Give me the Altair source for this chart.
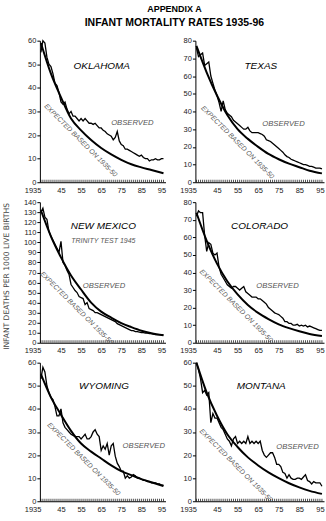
import altair as alt
import pandas as pd

FONT = "Liberation Sans"

YEARS = list(range(1935, 1997))
EXP_YEARS = [1935, 1940, 1945, 1950, 1955, 1960, 1965, 1970, 1975, 1980, 1985, 1990, 1996]
TICK_YEARS = [1935, 1945, 1955, 1965, 1975, 1985, 1995]
TICK_LABELS = ["1935", "45", "55", "65", "75", "85", "95"]

STATES = ["OKLAHOMA", "TEXAS", "NEW MEXICO", "COLORADO", "WYOMING", "MONTANA"]
YMAX = [60, 80, 140, 80, 60, 60]

OK_OBS = [55, 60, 59, 53, 50, 49, 46, 42, 41, 38,
          34, 33, 34, 31, 29, 30, 28, 28, 27, 26,
          27, 26, 27, 26, 25, 25, 24.5, 25, 24, 23,
          23, 22, 21.5, 20.5, 20, 19.5, 18, 19, 21.5, 17.5,
          16, 15.5, 14, 14, 13.5, 13, 12.5, 12, 11.5, 11,
          11.5, 10.5, 10, 10, 9, 9.5, 9.5, 10, 9.5, 9.5,
          10, 10]
TX_OBS = [76, 71, 72, 73, 66, 67, 68, 60, 56, 52,
          49, 45, 40, 46, 41, 39, 38, 37, 35, 34,
          33, 32, 31, 30, 30, 31, 29, 28, 28, 28,
          28, 27.5, 27, 26, 24, 23.5, 23, 22, 21, 20,
          19, 18, 17, 15.5, 14.5, 14, 13, 12.5, 12, 11.5,
          11, 10.5, 10, 10, 9.5, 9, 9, 8.5, 8, 8,
          8, 7.5]
NM_OBS = [130, 134, 125, 123, 111, 106, 102, 98, 94, 90,
          101, 80, 77, 72, 68, 58, 55, 52, 50, 46,
          45, 44, 38, 40, 34, 33, 32, 30, 30, 29,
          28, 27, 26, 25, 24, 23, 22, 21, 19, 18,
          17, 16, 15, 14, 13, 12, 12, 11, 11, 10.5,
          10, 10, 9.5, 9.5, 9, 9, 8.5, 8, 8, 8,
          8, 7.5]
CO_OBS = [72, 75, 74, 74, 61, 52, 57, 56, 51, 50,
          51, 43, 39, 37, 35, 33, 32, 31, 32, 32,
          31, 30, 31, 32, 29, 28, 27, 26, 26, 26,
          25, 25, 24, 23, 22, 20, 19, 18, 17, 16.5,
          16, 15, 14, 12, 12, 11, 11, 10, 10, 10.5,
          9.5, 10, 9.5, 10, 9, 9.5, 9, 8.5, 8, 7.5,
          7, 7]
WY_OBS = [53, 58, 56, 50, 47, 45, 44, 41, 37, 37,
          40, 34, 32, 31, 30, 29, 28.5, 28, 28, 28,
          27, 28, 29, 27, 27, 28, 30, 31, 29, 28,
          22, 24, 22.5, 25, 20, 24, 25, 19.5, 16.5, 15,
          13, 13, 10, 11, 10, 10.5, 11.5, 11, 10, 10,
          9.5, 9, 9, 8.5, 8.5, 8, 8, 8, 7.5, 7.5,
          7, 7]
MT_OBS = [60, 57, 53, 47, 48, 46, 47, 34, 38, 36,
          36, 34, 32, 31, 29, 27, 26, 24, 27, 28,
          25, 26, 25, 26, 25, 28, 25, 26, 25, 26,
          25, 26, 22, 20, 19, 20, 21, 21, 19, 16,
          16, 15, 12.5, 12, 10, 11.5, 10, 9.5, 9.5, 10,
          10, 9.5, 10.5, 11.5, 9, 8.5, 7.5, 8.5, 8, 8,
          8, 6.5]

OK_EXP = [59, 46, 36, 27, 22, 17.9, 14.5, 11.8, 9.5, 7.6, 6.3, 5.2, 3.8]
TX_EXP = [77, 62, 49, 38, 30, 24.5, 20, 16, 13, 10.5, 8.5, 6.5, 5]
NM_EXP = [132, 106, 85, 67, 53, 40, 31, 25, 19.5, 15.5, 12, 9.5, 7.5]
CO_EXP = [74, 58, 45, 35, 27.5, 21.5, 17, 13.5, 10.5, 8.3, 6.5, 5, 3.8]
WY_EXP = [55, 45, 37.5, 30.5, 25, 21.5, 18.5, 15.5, 13, 11.3, 9.6, 8.2, 6.6]
MT_EXP = [60, 47, 37, 29, 23.5, 19, 15.5, 12.5, 10, 7.8, 6, 4.5, 3.2]

OBSERVED = [OK_OBS, TX_OBS, NM_OBS, CO_OBS, WY_OBS, MT_OBS]
EXPECTED = [OK_EXP, TX_EXP, NM_EXP, CO_EXP, WY_EXP, MT_EXP]

# annotation anchor points (year, rate) per panel
NAME_POS = [(1965.3, 49.4), (1966.3, 65.8), (1966.1, 116.5), (1965.7, 66.6), (1966.4, 50.1), (1966.5, 50.1)]
OBS_POS = [(1980.5, 24.9), (1977.3, 32.8), (1966.4, 56.9), (1974.4, 32.2), (1986.2, 24), (1984.1, 23.7)]
EXP_POS = [(1954.8, 17.7), (1955.0, 22.5), (1952.8, 34.5), (1954.3, 21.0), (1956.3, 18.2), (1954.2, 15.5)]
EXP_LABEL = "EXPECTED BASED ON 1935-50"
OBS_LABEL = "OBSERVED"
TRINITY = ["TRINITY TEST 1945"]
TRINITY_POS = [(1966.1, 101.6)]
Y_TITLE = "INFANT DEATHS PER 1000 LIVE BIRTHS"

WIDTHS = [126, 129]
HEIGHTS = [142, 141, 139]

label_expr = " : ".join(f"datum.value == {y} ? '{l}'" for y, l in zip(TICK_YEARS, TICK_LABELS)) + " : ''"


def make_panel(i):
    w = WIDTHS[i % 2]
    h = HEIGHTS[i // 2]
    ymax = YMAX[i]
    xs = alt.Scale(domain=[1934.5, 1997], nice=False, zero=False)
    ys = alt.Scale(domain=[0, ymax], nice=False)

    yaxis_kw = dict(values=list(range(0, ymax + 1, 10)), tickSize=3, labelFontSize=7.5,
                    labelPadding=1, grid=False, title=None, labelColor="#222",
                    domainColor="black", tickColor="black", labelOverlap=False)
    if i == 2:
        yaxis_kw.update(title=Y_TITLE, titleX=-29, titleY=74, titleAngle=270,
                        titleFont="DejaVu Sans", titleFontSize=7.6, titleFontWeight="normal",
                        titleColor="#444", titleAlign="center", titleBaseline="bottom")
    yaxis = alt.Axis(**yaxis_kw)
    xaxis = alt.Axis(values=TICK_YEARS, labelExpr=label_expr, tickSize=0, labelPadding=4,
                     labelFontSize=7.5, labelColor="#222", domainColor="black", grid=False,
                     title=None, labelOverlap=False,
                     labelAlign={"condition": {"test": "datum.value == 1935", "value": "right"},
                                 "value": "center"})

    X_ = alt.X("year:Q", scale=xs, axis=xaxis)
    Y_ = alt.Y("rate:Q", scale=ys, axis=yaxis)

    obs_df = pd.DataFrame({"year": YEARS, "rate": OBSERVED[i]})
    exp_df = pd.DataFrame({"year": EXP_YEARS, "rate": EXPECTED[i]})

    obs = alt.Chart(obs_df).mark_line(color="black", strokeWidth=1.3).encode(x=X_, y=Y_)
    exp = alt.Chart(exp_df).mark_line(color="black", strokeWidth=2, interpolate="monotone").encode(
        x=X_, y=Y_)

    ticks = alt.Chart(pd.DataFrame({"year": YEARS})).mark_rule(color="black", strokeWidth=0.7).encode(
        x=X_, y=alt.value(h), y2=alt.value(h - 2.5))

    nx, ny = NAME_POS[i]
    name = alt.Chart(pd.DataFrame({"year": [nx], "rate": [ny], "t": [STATES[i]]})).mark_text(
        font=FONT, fontSize=10, fontStyle="italic", color="black", align="center", baseline="middle"
    ).encode(x=X_, y=Y_, text="t:N")

    ox, oy = OBS_POS[i]
    obs_t = alt.Chart(pd.DataFrame({"year": [ox], "rate": [oy], "t": [OBS_LABEL]})).mark_text(
        font=FONT, fontSize=7.7, fontStyle="italic", color="#555", align="center", baseline="middle"
    ).encode(x=X_, y=Y_, text="t:N")

    ex, ey = EXP_POS[i]
    exp_t = alt.Chart(pd.DataFrame({"year": [ex], "rate": [ey], "t": [EXP_LABEL]})).mark_text(
        font=FONT, fontSize=6.8, fontStyle="italic", color="#555", align="center", baseline="middle",
        angle=45
    ).encode(x=X_, y=Y_, text="t:N")

    layers = [ticks, obs, exp, name, obs_t, exp_t]
    if i == 2:
        tx, ty = TRINITY_POS[0]
        tri = alt.Chart(pd.DataFrame({"year": [tx], "rate": [ty], "t": TRINITY})).mark_text(
            font=FONT, fontSize=7, fontStyle="italic", color="#555", align="center", baseline="middle"
        ).encode(x=X_, y=Y_, text="t:N")
        layers.append(tri)

    return alt.layer(*layers).properties(width=w, height=h)


panels = [make_panel(i) for i in range(6)]

chart = alt.concat(
    *panels, columns=2, spacing={"row": 20, "column": 30}, bounds="flush", align="each",
    title=alt.TitleParams(text="APPENDIX A", subtitle="INFANT MORTALITY RATES 1935-96",
                          font=FONT, subtitleFont=FONT, fontSize=9, subtitleFontSize=10.5,
                          fontWeight="bold", subtitleFontWeight="bold", color="black",
                          subtitleColor="black", anchor="middle", frame="bounds", dx=10,
                          subtitlePadding=4, offset=8)
).properties(
    padding={"left": 2, "top": 4, "right": 0, "bottom": 0}
).configure_view(stroke=None).configure_axis(
    labelFont=FONT, titleFont=FONT, domainWidth=1, tickWidth=1
)

chart.save("out.html", embed_options={"renderer": "svg", "actions": False})
